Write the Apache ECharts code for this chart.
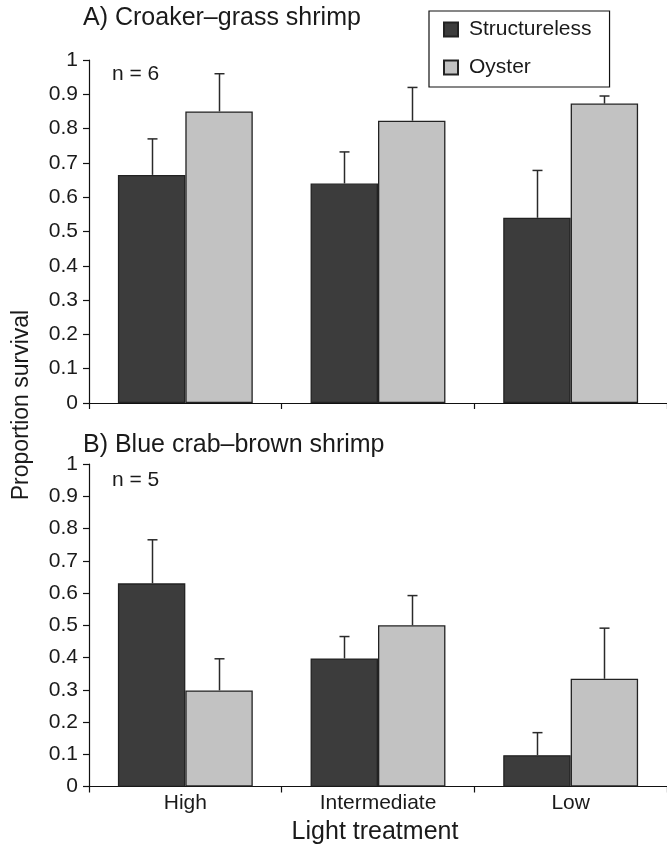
<!DOCTYPE html>
<html>
<head>
<meta charset="utf-8">
<script src="https://cdn.jsdelivr.net/npm/echarts@6/dist/echarts.min.js"></script>
<style>
html,body{margin:0;padding:0;background:#fff;}
#chart{width:667px;height:847px;}
</style>
</head>
<body>
<div id="chart"></div>
<script>
const categories = ['High', 'Intermediate', 'Low'];
const yTicks = [0, 0.1, 0.2, 0.3, 0.4, 0.5, 0.6, 0.7, 0.8, 0.9, 1];

// Panel A: Croaker–grass shrimp (n = 6)
const aStructureless = [0.665, 0.64, 0.54];
const aStructurelessErr = [0.105, 0.092, 0.138];
const aOyster = [0.85, 0.823, 0.873];
const aOysterErr = [0.11, 0.097, 0.022];

// Panel B: Blue crab–brown shrimp (n = 5)
const bStructureless = [0.63, 0.397, 0.097];
const bStructurelessErr = [0.135, 0.068, 0.07];
const bOyster = [0.298, 0.5, 0.334];
const bOysterErr = [0.098, 0.092, 0.157];

const FONT = '"Liberation Sans", Arial, Helvetica, sans-serif';
const DARK = '#3c3c3c';
const LIGHT = '#c2c2c2';
const EDGE = '#222';
const GAP = 0.30;

function errData(vals, errs) {
  return vals.map((v, i) => [i, v, v + errs[i]]);
}

function errRender(sign) {
  return function (params, api) {
    const i = api.value(0);
    const v = api.value(1);
    const top = api.value(2);
    const band = api.size([1, 0])[0];
    const bw = band * (1 - GAP) / 2;
    const p0 = api.coord([i, v]);
    const p1 = api.coord([i, top]);
    const x = Math.round(p0[0] + sign * bw / 2) + 0.5;
    const cap = 5;
    const st = { stroke: '#2a2a2a', lineWidth: 1.5 };
    return {
      type: 'group',
      children: [
        { type: 'line', shape: { x1: x, y1: p0[1], x2: x, y2: p1[1] }, style: st },
        { type: 'line', shape: { x1: x - cap, y1: p1[1], x2: x + cap, y2: p1[1] }, style: st }
      ]
    };
  };
}

function yAxisCfg(gridIndex) {
  return {
    type: 'value', gridIndex: gridIndex, min: yTicks[0], max: yTicks[yTicks.length - 1], interval: 0.1,
    axisLine: { show: true, lineStyle: { color: '#111', width: 1.2 } },
    axisTick: { show: true, length: 6, lineStyle: { color: '#111', width: 1.2 } },
    splitLine: { show: false },
    axisLabel: {
      color: '#1a1a1a', fontSize: 21, fontFamily: FONT, margin: 11,
      formatter: function (v) { return String(+v.toFixed(1)); }
    }
  };
}

function xAxisCfg(gridIndex, showLabels) {
  return {
    type: 'category', gridIndex: gridIndex, data: categories,
    axisLine: { show: true, lineStyle: { color: '#111', width: 1.2 } },
    axisTick: { show: true, length: 6, lineStyle: { color: '#111', width: 1.2 } },
    axisLabel: { show: showLabels, color: '#1a1a1a', fontSize: 21, fontFamily: FONT, margin: 6 }
  };
}

function barSeries(name, data, color, idx) {
  return {
    name: name, type: 'bar', xAxisIndex: idx, yAxisIndex: idx, data: data,
    barGap: '0%', barCategoryGap: (GAP * 100) + '%',
    itemStyle: { color: color, borderColor: EDGE, borderWidth: 1.3 },
    emphasis: { disabled: true }, z: 2
  };
}

function errSeries(vals, errs, sign, idx) {
  return {
    type: 'custom', xAxisIndex: idx, yAxisIndex: idx,
    data: errData(vals, errs),
    encode: { x: 0, y: [1, 2] },
    renderItem: errRender(sign), z: 3, silent: true
  };
}

const chart = echarts.init(document.getElementById('chart'));
chart.setOption({
  animation: false,
  backgroundColor: '#fff',
  textStyle: { fontFamily: FONT },
  grid: [
    { left: 89, top: 60, width: 580, height: 343 },
    { left: 89, top: 464, width: 580, height: 322.5 }
  ],
  xAxis: [xAxisCfg(0, false), xAxisCfg(1, true)],
  yAxis: [yAxisCfg(0), yAxisCfg(1)],
  legend: {
    data: [
      { name: 'Structureless', icon: 'rect' },
      { name: 'Oyster', icon: 'rect' }
    ],
    orient: 'vertical', left: 429, top: 11,
    itemWidth: 14, itemHeight: 14, itemGap: 17,
    padding: [8, 18, 9, 14],
    borderColor: '#111', borderWidth: 1.2, backgroundColor: '#fff',
    textStyle: { fontSize: 21, color: '#1a1a1a', fontFamily: FONT, padding: [0, 0, 0, 6] },
    selectedMode: false
  },
  series: [
    barSeries('Structureless', aStructureless, DARK, 0),
    barSeries('Oyster', aOyster, LIGHT, 0),
    errSeries(aStructureless, aStructurelessErr, -1, 0),
    errSeries(aOyster, aOysterErr, 1, 0),
    barSeries('Structureless', bStructureless, DARK, 1),
    barSeries('Oyster', bOyster, LIGHT, 1),
    errSeries(bStructureless, bStructurelessErr, -1, 1),
    errSeries(bOyster, bOysterErr, 1, 1)
  ],
  graphic: [
    { type: 'text', left: 83, top: 6, style: { text: 'A) Croaker\u2013grass shrimp', font: '25px ' + FONT, fill: '#1a1a1a' } },
    { type: 'text', left: 83, top: 433, style: { text: 'B) Blue crab\u2013brown shrimp', font: '25px ' + FONT, fill: '#1a1a1a' } },
    { type: 'text', left: 112, top: 64, style: { text: 'n = 6', font: '21px ' + FONT, fill: '#1a1a1a' } },
    { type: 'text', left: 112, top: 470, style: { text: 'n = 5', font: '21px ' + FONT, fill: '#1a1a1a' } },
    { type: 'text', x: 22, y: 405, rotation: Math.PI / 2,
      style: { text: 'Proportion survival', font: '23px ' + FONT, fill: '#1a1a1a', align: 'center', verticalAlign: 'middle' } },
    { type: 'text', x: 375, y: 832,
      style: { text: 'Light treatment', font: '25px ' + FONT, fill: '#1a1a1a', align: 'center', verticalAlign: 'middle' } }
  ]
});
</script>
</body>
</html>
